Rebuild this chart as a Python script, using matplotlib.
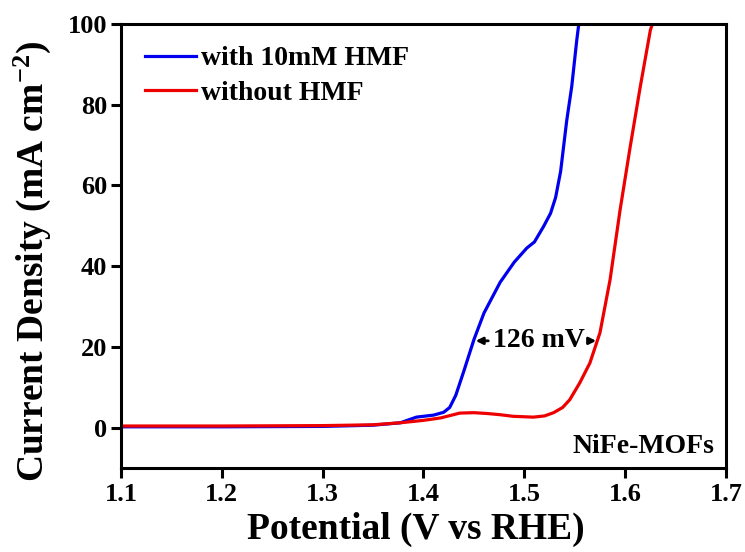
import matplotlib
matplotlib.use("Agg")
import matplotlib.pyplot as plt

plt.rcParams['font.family'] = ['Liberation Serif', 'DejaVu Serif']
plt.rcParams['font.weight'] = 'bold'
plt.rcParams['mathtext.fontset'] = 'custom'
plt.rcParams['mathtext.rm'] = 'Liberation Serif:bold'
plt.rcParams['mathtext.default'] = 'rm'

# Data
x_hmf = [1.10, 1.20, 1.30, 1.35, 1.377, 1.393, 1.41, 1.42, 1.426, 1.432, 1.44,
         1.45, 1.46, 1.476, 1.49, 1.5025, 1.51, 1.519, 1.526, 1.531, 1.536,
         1.542, 1.547, 1.552, 1.554]
y_hmf = [0.2, 0.2, 0.3, 0.6, 1.2, 2.6, 3.1, 3.8, 5.0, 8.0, 14.0,
         21.8, 28.4, 36.0, 41.0, 44.5, 46.0, 49.8, 53.1, 57.0, 63.5,
         76.0, 84.5, 96.0, 100.0]
x_no = [1.10, 1.20, 1.30, 1.35, 1.377, 1.40, 1.417, 1.436, 1.45, 1.463, 1.476,
        1.489, 1.509, 1.52, 1.529, 1.538, 1.545, 1.555, 1.565, 1.575, 1.585,
        1.595, 1.605, 1.615, 1.625, 1.627]
y_no = [0.4, 0.4, 0.5, 0.7, 1.2, 1.8, 2.4, 3.6, 3.7, 3.5, 3.2,
        2.8, 2.6, 2.9, 3.7, 5.0, 6.9, 11.1, 16.0, 23.5, 36.6,
        54.0, 69.6, 84.5, 98.5, 100.0]
labels = ["with 10mM HMF", "without HMF"]
x_ticks = [1.1, 1.2, 1.3, 1.4, 1.5, 1.6, 1.7]
y_ticks = [0, 20, 40, 60, 80, 100]

fig = plt.figure(figsize=(7.45, 5.52), dpi=100)
ax = fig.add_axes([0.1624, 0.1522, 0.8121, 0.8043])
ax.plot(x_hmf, y_hmf, color='#0000ee', lw=2.3, label=labels[0])
ax.plot(x_no, y_no, color='#ee0000', lw=2.3, label=labels[1])
ax.set_xlim(1.1, 1.7)
ax.set_ylim(-10, 100)
ax.set_xticks(x_ticks)
ax.set_yticks(y_ticks)
ax.tick_params(direction='out', length=7, width=2.2, labelsize=19)
ax.tick_params(axis='x', pad=4)
ax.tick_params(axis='y', pad=3)
for s in ax.spines.values():
    s.set_linewidth(2.2)
ax.set_xlabel("Potential (V vs RHE)", fontsize=27, fontweight='bold')
ax.set_ylabel("Current Density (mA cm$^{-2}$)", fontsize=27, fontweight='bold')
ax.xaxis.set_label_coords(0.488, -0.099)
ax.yaxis.set_label_coords(-0.112, 0.465)

leg = ax.legend(loc='upper left', bbox_to_anchor=(0.0215, 0.976), frameon=False,
                fontsize=20, handlelength=1.85, handletextpad=0.18, labelspacing=0.33,
                borderaxespad=0.0)

ax.text(1.5147, 21.5, "126 mV", fontsize=20, fontweight='bold', ha='center', va='center')
ax.annotate("", xy=(1.449, 21.5), xytext=(1.467, 21.5),
            arrowprops=dict(arrowstyle='-|>', color='black', lw=2, mutation_scale=10))
ax.annotate("", xy=(1.574, 21.5), xytext=(1.561, 21.5),
            arrowprops=dict(arrowstyle='-|>', color='black', lw=2, mutation_scale=10))
ax.text(0.980, 0.034, "NiFe-MOFs", transform=ax.transAxes, fontsize=20,
        fontweight='bold', ha='right', va='baseline')

fig.savefig("out.png", dpi=100)
